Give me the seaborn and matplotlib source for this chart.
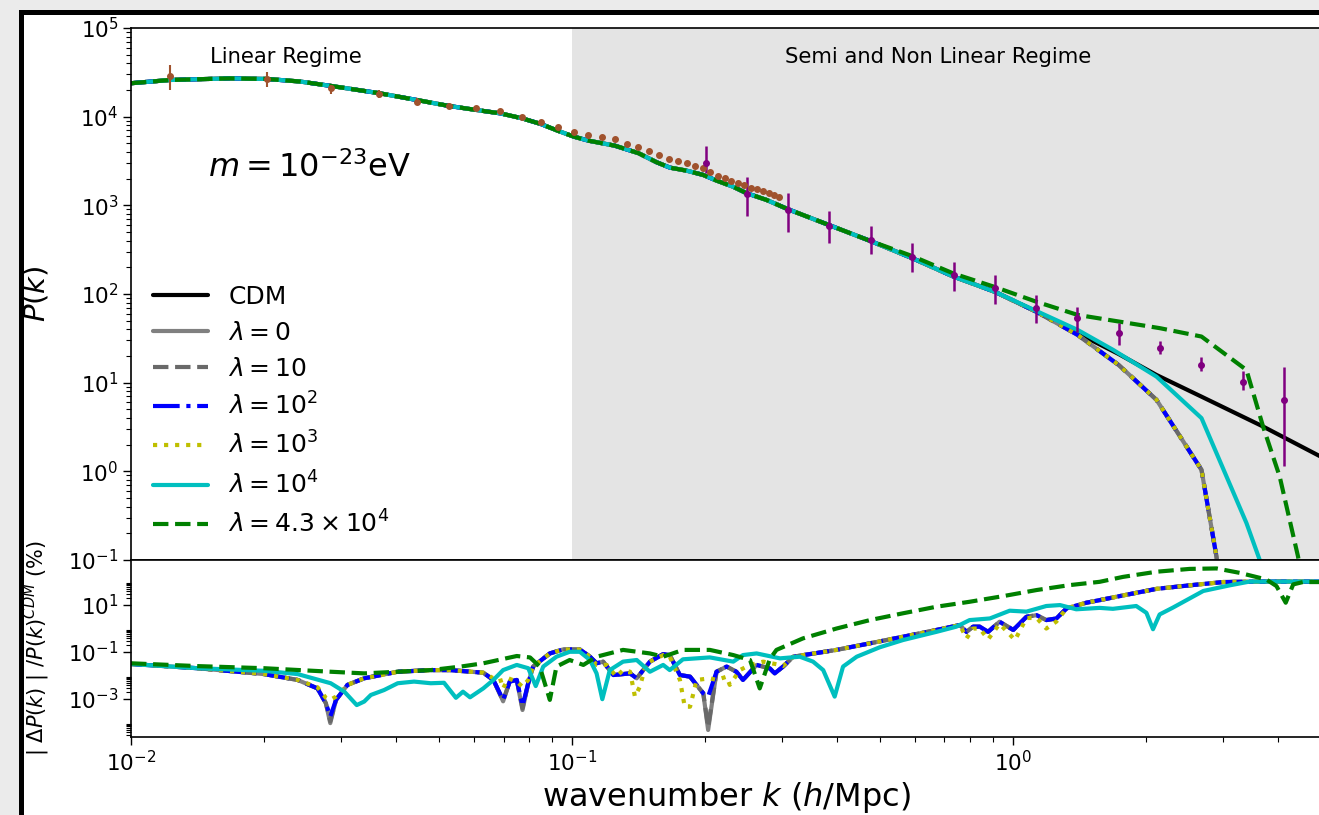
import numpy as np
import matplotlib
matplotlib.use("Agg")
import matplotlib.pyplot as plt
import seaborn as sns
from matplotlib.patches import Rectangle
from matplotlib.ticker import FixedLocator, LogFormatterSciNotation, NullFormatter

sns.set_style("ticks")
plt.rcParams['font.family'] = ['DejaVu Sans']
plt.rcParams['mathtext.fontset'] = 'dejavusans'
for key in ('text.color', 'axes.labelcolor', 'xtick.color', 'ytick.color', 'axes.edgecolor'):
    plt.rcParams[key] = 'black'

# ---------------- upper panel: P(k) ----------------
k_base = [0.0100, 0.01226, 0.01677, 0.0203, 0.02416, 0.0284, 0.0365, 0.0445, 0.0526,
          0.0606, 0.0687, 0.0769, 0.0849, 0.0928, 0.101, 0.109, 0.125, 0.1416, 0.1556,
          0.1668, 0.182, 0.1985, 0.2129, 0.2321, 0.249, 0.2763, 0.309, 0.383, 0.476]
P_base = [23800, 25900, 27000, 26600, 24900, 22200, 18400, 15400, 13200,
          11900, 10900, 9600, 8280, 6950, 5950, 5360, 4710, 3870, 3060,
          2660, 2460, 2200, 1900, 1620, 1370, 1150, 904, 599, 395]

k_cdm_tail = [0.591, 0.734, 0.910, 1.129, 1.402, 1.739, 2.118, 2.679, 3.695, 5.0]
P_cdm_tail = [254, 157, 106, 63.4, 36.1, 21.0, 12.2, 6.95, 3.20, 1.46]

k_low_tail = [0.591, 0.734, 0.910, 1.129, 1.402, 1.739, 2.118, 2.679, 2.897, 2.95]
P_low_tail = [254, 157, 106, 63.4, 34.6, 15.8, 6.40, 1.04, 0.109, 0.05]

k_l4_tail = [0.591, 0.734, 0.910, 1.129, 1.402, 1.689, 2.118, 2.679, 3.388, 3.631, 3.75]
P_l4_tail = [254, 157, 106, 64.5, 39.4, 23.4, 11.7, 3.98, 0.261, 0.1, 0.07]

k_l43_tail = [0.591, 0.734, 0.910, 1.129, 1.402, 1.739, 2.158, 2.679, 3.388, 3.695, 4.03, 4.436, 4.5]
P_l43_tail = [268, 170, 120, 82, 58.1, 48.9, 41.1, 33.1, 13.9, 3.20, 0.873, 0.109, 0.07]

# observational points (brown)
k_obs1 = [0.01226, 0.0203, 0.0284, 0.0365, 0.0445, 0.0526, 0.0606, 0.0687, 0.0769, 0.0849,
          0.0928, 0.101, 0.109, 0.117, 0.125, 0.1335, 0.1416, 0.1497, 0.158, 0.1657,
          0.1739, 0.182, 0.190, 0.198, 0.206, 0.214, 0.222, 0.230, 0.238, 0.246,
          0.2547, 0.2627, 0.2715, 0.2798, 0.2875, 0.2951]
P_obs1 = [28800, 26800, 20900, 18000, 14800, 13200, 12400, 11700, 10000, 8800,
          7600, 6780, 6170, 5860, 5560, 4920, 4550, 4070, 3670, 3370,
          3140, 2980, 2800, 2620, 2360, 2160, 2020, 1900, 1770, 1680,
          1580, 1520, 1440, 1370, 1310, 1230]
err1_lo = [8800, 5000, 3030, 1800, 1300, 1050, 400, 350, 300, 250,
           200, 180, 160, 150, 140, 120, 110, 100, 90, 80,
           75, 70, 65, 60, 55, 50, 45, 45, 40, 40,
           35, 35, 30, 30, 30, 30]
err1_hi = [9500, 5300, 1850, 2000, 1300, 1050, 400, 350, 300, 250,
           200, 180, 160, 150, 140, 120, 110, 100, 90, 80,
           75, 70, 65, 60, 55, 50, 45, 45, 40, 40,
           35, 35, 30, 30, 30, 30]

# observational points (purple)
k_obs2 = [0.201, 0.249, 0.309, 0.383, 0.476, 0.591, 0.734, 0.910, 1.129, 1.402,
          1.739, 2.158, 2.679, 3.33, 4.13]
P_obs2 = [3030, 1330, 887, 590, 407, 264, 163, 117, 69.7, 53.3,
          36.1, 24.5, 15.9, 10.2, 6.4]
P_obs2_hi = [4710, 2075, 1368, 871, 590, 374, 230, 163, 97.7, 71.0,
             47.6, 29.6, 19.4, 13.7, 15.0]
P_obs2_lo = [2300, 759, 506, 374, 283, 179, 109, 77.3, 46.9, 37.7,
             26.7, 21.1, 13.7, 8.3, 1.16]

# ---------------- lower panel: |dP|/P_CDM (%), log10 values ----------------
lk_l0 = [-2.000, -1.849, -1.698, -1.622, -1.577, -1.558, -1.548, -1.535, -1.509, -1.471,
         -1.395, -1.320, -1.277, -1.201, -1.178, -1.156, -1.141, -1.125, -1.112, -1.099,
         -1.088, -1.050, -1.020, -0.982, -0.959, -0.944, -0.929, -0.906, -0.868, -0.853,
         -0.823, -0.793, -0.778, -0.755, -0.732, -0.702, -0.691, -0.672, -0.649, -0.627,
         -0.612, -0.581, -0.551, -0.540, -0.521, -0.498, -0.400, -0.324, -0.249, -0.173,
         -0.120, -0.105, -0.090, -0.075, -0.056, -0.030, 0.001, 0.031, 0.054, 0.076,
         0.099, 0.122, 0.167, 0.197, 0.250, 0.326, 0.401, 0.477, 0.553, 0.698]
ld_l0 = [-1.51, -1.69, -1.94, -2.19, -2.55, -3.18, -4.03, -3.04, -2.40, -2.12,
         -1.84, -1.77, -1.77, -1.88, -2.19, -3.10, -2.26, -2.19, -3.47, -2.33,
         -1.62, -1.06, -0.89, -0.89, -1.20, -1.48, -1.41, -1.98, -1.91, -2.12,
         -1.41, -1.09, -1.13, -1.98, -2.05, -2.76, -4.32, -1.84, -1.62, -1.84,
         -2.19, -1.55, -1.70, -1.91, -1.62, -1.20, -0.91, -0.63, -0.35, -0.06,
         0.15, -0.14, 0.08, 0.08, -0.14, 0.29, -0.06, 0.50, 0.57, 0.36,
         0.43, 0.86, 1.10, 1.21, 1.41, 1.69, 1.84, 1.98, 2.00, 2.00]
ld_l10 = [-1.51, -1.69, -1.94, -2.19, -2.55, -3.18, -3.95, -3.04, -2.40, -2.12,
          -1.84, -1.77, -1.77, -1.88, -2.19, -3.08, -2.26, -2.19, -3.40, -2.33,
          -1.62, -1.06, -0.89, -0.89, -1.20, -1.48, -1.41, -1.98, -1.91, -2.12,
          -1.41, -1.09, -1.13, -1.98, -2.05, -2.76, -4.20, -1.84, -1.62, -1.84,
          -2.19, -1.55, -1.70, -1.91, -1.62, -1.20, -0.91, -0.63, -0.35, -0.06,
          0.15, -0.14, 0.08, 0.08, -0.14, 0.29, -0.06, 0.50, 0.57, 0.36,
          0.43, 0.86, 1.10, 1.21, 1.41, 1.69, 1.84, 1.98, 2.00, 2.00]
ld_l100 = [-1.51, -1.69, -1.94, -2.19, -2.55, -3.18, -3.75, -3.04, -2.40, -2.12,
           -1.84, -1.77, -1.77, -1.88, -2.19, -3.04, -2.26, -2.19, -3.30, -2.33,
           -1.62, -1.06, -0.89, -0.89, -1.20, -1.48, -1.41, -1.98, -1.91, -2.12,
           -1.41, -1.09, -1.13, -1.98, -2.05, -2.76, -2.90, -1.84, -1.62, -1.84,
           -2.19, -1.55, -1.70, -1.91, -1.62, -1.20, -0.91, -0.63, -0.35, -0.06,
           0.15, -0.14, 0.08, 0.08, -0.14, 0.29, -0.06, 0.50, 0.57, 0.36,
           0.43, 0.86, 1.10, 1.21, 1.41, 1.69, 1.84, 1.98, 2.00, 2.00]

lk_l1000 = [-2.000, -1.849, -1.698, -1.622, -1.577, -1.558, -1.548, -1.535, -1.509, -1.471,
            -1.395, -1.320, -1.277, -1.201, -1.178, -1.163, -1.156, -1.144, -1.125, -1.112,
            -1.099, -1.088, -1.050, -1.020, -0.982, -0.959, -0.944, -0.921, -0.899, -0.884,
            -0.868, -0.857, -0.846, -0.831, -0.793, -0.778, -0.755, -0.744, -0.732, -0.717,
            -0.687, -0.672, -0.649, -0.642, -0.619, -0.596, -0.566, -0.528, -0.521, -0.498,
            -0.400, -0.324, -0.249, -0.173, -0.120, -0.105, -0.090, -0.075, -0.056, -0.030,
            0.005, 0.031, 0.054, 0.076, 0.099, 0.122, 0.167, 0.197, 0.250, 0.326,
            0.401, 0.477, 0.553, 0.698]
ld_l1000 = [-1.51, -1.69, -1.94, -2.19, -2.50, -2.95, -3.04, -2.90, -2.40, -2.12,
            -1.84, -1.77, -1.77, -1.88, -2.12, -2.12, -2.55, -2.12, -2.26, -2.48,
            -2.19, -1.62, -1.06, -0.89, -0.89, -1.20, -1.55, -1.55, -2.05, -1.77,
            -1.84, -2.90, -2.48, -1.48, -1.13, -1.20, -2.19, -3.33, -3.33, -2.19,
            -2.12, -2.19, -2.05, -2.40, -1.77, -1.55, -1.41, -1.55, -1.60, -1.20,
            -0.91, -0.63, -0.35, -0.06, 0.15, -0.42, 0.00, 0.00, -0.46, 0.20,
            -0.49, 0.45, 0.45, 0.00, 0.30, 0.86, 1.10, 1.21, 1.41, 1.69,
            1.84, 1.98, 2.00, 2.00]

lk_l4 = [-2.000, -1.849, -1.698, -1.622, -1.547, -1.516, -1.488, -1.471, -1.456, -1.426,
         -1.395, -1.358, -1.320, -1.290, -1.263, -1.247, -1.231, -1.201, -1.178, -1.156,
         -1.125, -1.099, -1.082, -1.065, -1.035, -1.005, -0.982, -0.959, -0.944, -0.931,
         -0.914, -0.884, -0.853, -0.823, -0.793, -0.778, -0.748, -0.687, -0.634, -0.612,
         -0.581, -0.528, -0.483, -0.453, -0.430, -0.404, -0.385, -0.354, -0.302, -0.249,
         -0.173, -0.128, -0.098, -0.052, -0.007, 0.031, 0.076, 0.107, 0.144, 0.197,
         0.227, 0.280, 0.303, 0.318, 0.333, 0.363, 0.432, 0.492, 0.537, 0.698]
ld_l4 = [-1.51, -1.69, -1.80, -1.94, -2.33, -2.69, -3.26, -3.11, -2.83, -2.62,
         -2.33, -2.26, -2.33, -2.31, -2.95, -2.69, -2.93, -2.55, -2.19, -1.77,
         -1.55, -1.69, -2.45, -1.62, -1.20, -0.99, -0.99, -1.34, -1.91, -3.01,
         -1.77, -1.41, -1.34, -1.84, -1.55, -1.77, -1.31, -1.23, -1.41, -1.13,
         -1.06, -1.27, -1.20, -1.41, -1.77, -2.90, -1.62, -1.20, -0.80, -0.49,
         -0.14, 0.08, 0.36, 0.43, 0.76, 0.72, 0.96, 1.00, 0.82, 0.88,
         0.84, 0.96, 0.67, -0.03, 0.60, 0.89, 1.60, 1.84, 2.00, 2.00]

lk_l43 = [-2.000, -1.849, -1.698, -1.547, -1.471, -1.395, -1.320, -1.252, -1.201, -1.125,
          -1.095, -1.073, -1.050, -1.035, -1.005, -0.974, -0.944, -0.884, -0.823, -0.793,
          -0.748, -0.687, -0.634, -0.596, -0.574, -0.551, -0.536, -0.476, -0.400, -0.324,
          -0.249, -0.173, -0.098, -0.022, 0.054, 0.129, 0.197, 0.250, 0.326, 0.401,
          0.462, 0.515, 0.575, 0.598, 0.619, 0.636, 0.658, 0.698]
ld_l43 = [-1.48, -1.60, -1.69, -1.84, -1.91, -1.84, -1.77, -1.62, -1.48, -1.17,
          -1.23, -1.62, -3.04, -1.62, -1.34, -1.55, -1.20, -0.91, -1.06, -1.20,
          -0.91, -0.91, -1.13, -1.34, -2.55, -1.30, -0.91, -0.42, 0.00, 0.36,
          0.65, 0.93, 1.14, 1.38, 1.64, 1.85, 1.99, 2.20, 2.42, 2.54,
          2.56, 2.37, 2.09, 1.81, 1.10, 1.88, 1.98, 1.98]

# ---------------- styles ----------------
models = [
    ("CDM", "black", "-"),
    (r"$\lambda = 0$", "gray", "-"),
    (r"$\lambda = 10$", "dimgray", "--"),
    (r"$\lambda = 10^{2}$", "blue", "-."),
    (r"$\lambda = 10^{3}$", "y", ":"),
    (r"$\lambda = 10^{4}$", "c", "-"),
    (r"$\lambda = 4.3\times10^{4}$", "g", "--"),
]
top_series = [
    (k_base + k_cdm_tail, P_base + P_cdm_tail),
    (k_base + k_low_tail, P_base + P_low_tail),
    (k_base + k_low_tail, P_base + P_low_tail),
    (k_base + k_low_tail, P_base + P_low_tail),
    (k_base + k_low_tail, P_base + P_low_tail),
    (k_base + k_l4_tail, P_base + P_l4_tail),
    (k_base + k_l43_tail, P_base + P_l43_tail),
]
low_series = [
    None,
    (lk_l0, ld_l0),
    (lk_l0, ld_l10),
    (lk_l0, ld_l100),
    (lk_l1000, ld_l1000),
    (lk_l4, ld_l4),
    (lk_l43, ld_l43),
]

fig = plt.figure(figsize=(13.19, 8.15), dpi=100)
fig.patch.set_facecolor('#ebebeb')
frame = Rectangle((0.0158, -0.05), 1.2, 1.0347, transform=fig.transFigure,
                  facecolor='white', edgecolor='black', lw=3.6, zorder=-10)
fig.add_artist(frame)

ax1 = fig.add_axes([0.0993, 0.3129, 0.9022, 0.6528])
ax2 = fig.add_axes([0.0993, 0.0957, 0.9022, 0.2172])

LW = 3
for (lab, col, ls), (kk, pp) in zip(models, top_series):
    sns.lineplot(x=kk, y=pp, ax=ax1, color=col, linestyle=ls, lw=LW, label=lab,
                 estimator=None, sort=False)

ax1.errorbar(k_obs1, P_obs1, yerr=[err1_lo, err1_hi], fmt='o', color='sienna',
             ms=4, elinewidth=1.5, capsize=0, zorder=5)
yerr2 = [np.array(P_obs2) - np.array(P_obs2_lo), np.array(P_obs2_hi) - np.array(P_obs2)]
ax1.errorbar(k_obs2, P_obs2, yerr=yerr2, fmt='o', color='purple',
             ms=4, elinewidth=1.8, capsize=0, zorder=5)

ax1.set_xscale('log')
ax1.set_yscale('log')
ax1.set_xlim(0.01, 5.0)
ax1.set_ylim(0.1, 1e5)
ax1.axvspan(0.1, 10, color='#e4e4e4', zorder=0, lw=0)
ax1.tick_params(axis='x', which='both', bottom=False, labelbottom=False)
ax1.tick_params(axis='y', which='major', labelsize=15.5, length=5.5, width=1)
ax1.tick_params(axis='y', which='minor', length=3.5, width=0.8)
ax1.set_ylabel(r'$P(k)$', fontsize=21)
ax1.yaxis.set_label_coords(-0.068, 0.5)

ax1.text(0.130, 0.945, 'Linear Regime', transform=ax1.transAxes, fontsize=15.2,
         ha='center', va='center')
ax1.text(0.678, 0.945, 'Semi and Non Linear Regime', transform=ax1.transAxes,
         fontsize=15.2, ha='center', va='center')
ax1.text(0.0647, 0.737, r'$m = 10^{-23}$eV', transform=ax1.transAxes, fontsize=23,
         ha='left', va='center')

ax1.legend(loc='lower left', bbox_to_anchor=(0.0, 0.0), frameon=False, fontsize=18,
           handlelength=2.2, handletextpad=0.8, labelspacing=0.48)

for (lab, col, ls), ser in zip(models, low_series):
    if ser is None:
        continue
    lk, ld = ser
    sns.lineplot(x=10 ** np.array(lk), y=10 ** np.array(ld), ax=ax2, color=col,
                 linestyle=ls, lw=LW, estimator=None, sort=False, legend=False)

ax2.set_xscale('log')
ax2.set_yscale('log')
ax2.set_xlim(0.01, 5.0)
ax2.set_ylim(10 ** -4.62, 10 ** 2.92)
ax2.yaxis.set_major_locator(FixedLocator([1e-3, 1e-1, 1e1]))
ax2.yaxis.set_major_formatter(LogFormatterSciNotation())
ax2.yaxis.set_minor_locator(FixedLocator([m * 10.0 ** e for e in (-5, -3, -1, 1)
                                          for m in range(2, 10)]))
ax2.yaxis.set_minor_formatter(NullFormatter())
ax2.tick_params(axis='both', which='major', labelsize=15.5, length=5.5, width=1)
ax2.tick_params(axis='both', which='minor', length=3.5, width=0.8)
ax2.set_xlabel(r'wavenumber $k$ ($h$/Mpc)', fontsize=23)
ax2.set_ylabel(r'$|\ \Delta P(k)\ |\ /P(k)^{CDM}$ (%)', fontsize=15)
ax2.yaxis.set_label_coords(-0.066, 0.5)

for ax in (ax1, ax2):
    for s in ax.spines.values():
        s.set_linewidth(1.2)
        s.set_color('black')

fig.savefig('out.png', dpi=100, facecolor=fig.get_facecolor())
